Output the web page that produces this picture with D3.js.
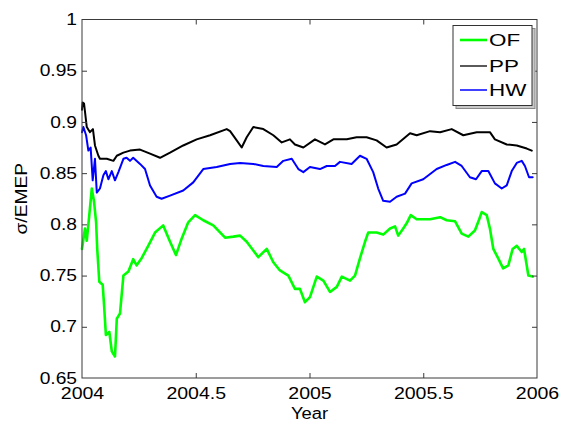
<!DOCTYPE html>
<html>
<head>
<meta charset="utf-8">
<script src="https://cdn.jsdelivr.net/npm/d3@7"></script>
<style>
  html, body { margin: 0; padding: 0; background: #fff; }
  svg { display: block; }
  text { font-family: "Liberation Sans", Arial, Helvetica, sans-serif; fill: #000; }
</style>
</head>
<body>
<svg id="chart" width="563" height="423"></svg>
<script>
// ---------------- DATA ----------------
const seriesNames = ["OF", "PP", "HW"];
const xTickValues = [2004, 2004.5, 2005, 2005.5, 2006];
const xTickLabels = ["2004", "2004.5", "2005", "2005.5", "2006"];
const yTickValues = [0.65, 0.7, 0.75, 0.8, 0.85, 0.9, 0.95, 1];
const yTickLabels = ["0.65", "0.7", "0.75", "0.8", "0.85", "0.9", "0.95", "1"];

const ppX = [2004.000,2004.003,2004.009,2004.021,2004.035,2004.048,2004.057,2004.072,2004.079,2004.109,2004.138,2004.153,2004.182,2004.211,2004.255,2004.299,2004.343,2004.387,2004.445,2004.504,2004.563,2004.636,2004.651,2004.680,2004.702,2004.724,2004.753,2004.797,2004.841,2004.878,2004.914,2004.936,2004.973,2005.024,2005.068,2005.105,2005.164,2005.207,2005.251,2005.295,2005.339,2005.383,2005.442,2005.471,2005.530,2005.574,2005.625,2005.676,2005.735,2005.793,2005.815,2005.867,2005.911,2005.955,2005.977];
const ppY = [0.912,0.919,0.918,0.895,0.890,0.893,0.877,0.867,0.864,0.864,0.862,0.867,0.870,0.872,0.873,0.869,0.865,0.870,0.877,0.883,0.887,0.893,0.891,0.882,0.875,0.885,0.895,0.893,0.887,0.880,0.883,0.878,0.875,0.883,0.878,0.883,0.883,0.885,0.885,0.882,0.875,0.878,0.889,0.887,0.891,0.890,0.893,0.887,0.890,0.890,0.883,0.878,0.877,0.874,0.872];

const hwX = [2004.000,2004.006,2004.018,2004.028,2004.038,2004.047,2004.057,2004.065,2004.079,2004.094,2004.105,2004.116,2004.131,2004.145,2004.160,2004.182,2004.196,2004.211,2004.225,2004.255,2004.277,2004.299,2004.328,2004.350,2004.387,2004.445,2004.489,2004.533,2004.592,2004.651,2004.695,2004.753,2004.797,2004.856,2004.885,2004.922,2004.951,2004.973,2005.002,2005.046,2005.076,2005.112,2005.134,2005.185,2005.222,2005.251,2005.280,2005.302,2005.324,2005.354,2005.383,2005.420,2005.449,2005.500,2005.559,2005.603,2005.640,2005.669,2005.705,2005.732,2005.757,2005.786,2005.815,2005.845,2005.867,2005.889,2005.911,2005.933,2005.947,2005.965,2005.981];
const hwY = [0.890,0.895,0.887,0.872,0.875,0.843,0.864,0.831,0.835,0.848,0.852,0.844,0.852,0.843,0.851,0.864,0.865,0.862,0.865,0.859,0.854,0.838,0.827,0.825,0.828,0.833,0.841,0.854,0.856,0.859,0.860,0.859,0.857,0.856,0.862,0.864,0.854,0.851,0.856,0.854,0.857,0.857,0.861,0.859,0.867,0.864,0.851,0.835,0.823,0.822,0.827,0.830,0.840,0.844,0.854,0.858,0.861,0.857,0.846,0.844,0.852,0.852,0.840,0.835,0.838,0.852,0.860,0.862,0.857,0.846,0.846];

const ofX = [2004.000,2004.013,2004.021,2004.032,2004.043,2004.053,2004.062,2004.067,2004.076,2004.091,2004.097,2004.105,2004.120,2004.131,2004.145,2004.153,2004.167,2004.182,2004.204,2004.225,2004.240,2004.262,2004.291,2004.321,2004.357,2004.387,2004.413,2004.438,2004.467,2004.497,2004.533,2004.577,2004.629,2004.665,2004.695,2004.724,2004.775,2004.812,2004.841,2004.870,2004.907,2004.936,2004.958,2004.980,2005.002,2005.032,2005.061,2005.090,2005.120,2005.142,2005.178,2005.200,2005.222,2005.244,2005.258,2005.295,2005.324,2005.354,2005.376,2005.390,2005.412,2005.427,2005.445,2005.471,2005.530,2005.574,2005.603,2005.640,2005.669,2005.698,2005.727,2005.746,2005.757,2005.779,2005.793,2005.808,2005.829,2005.851,2005.874,2005.893,2005.911,2005.933,2005.943,2005.962,2005.981];
const ofY = [0.776,0.796,0.784,0.809,0.835,0.822,0.802,0.776,0.744,0.741,0.721,0.692,0.695,0.676,0.671,0.708,0.713,0.750,0.754,0.766,0.760,0.767,0.779,0.792,0.799,0.783,0.770,0.786,0.802,0.809,0.804,0.799,0.787,0.788,0.789,0.783,0.768,0.776,0.763,0.755,0.750,0.737,0.737,0.724,0.729,0.749,0.745,0.734,0.739,0.749,0.745,0.750,0.767,0.783,0.792,0.792,0.790,0.796,0.798,0.789,0.796,0.801,0.809,0.805,0.805,0.807,0.804,0.803,0.791,0.788,0.794,0.805,0.812,0.809,0.796,0.776,0.767,0.757,0.760,0.776,0.779,0.773,0.776,0.750,0.749];

const xLabel = "Year";
const yLabel = "σ/EMEP";

// ---------------- CHART ----------------
const svg = d3.select("#chart");
const L = 82, R = 537, T = 19.5, B = 378;
const x = d3.scaleLinear().domain([2004, 2006]).range([L, R]);
const y = d3.scaleLinear().domain([0.65, 1]).range([B, T]);

const frameColor = "#3a3a3a";
const fontSize = 16;

function stretch(sel, factor) {
  sel.each(function () {
    const w = this.getComputedTextLength();
    d3.select(this).attr("textLength", w * factor).attr("lengthAdjust", "spacingAndGlyphs");
  });
}

// series lines
const series = [
  { name: "OF", xs: ofX, ys: ofY, color: "#00ff00", width: 2.6 },
  { name: "PP", xs: ppX, ys: ppY, color: "#000000", width: 2 },
  { name: "HW", xs: hwX, ys: hwY, color: "#0000ff", width: 2 }
];
const line = d3.line().x(d => x(d[0])).y(d => y(d[1]));
const drawOrder = ["OF", "PP", "HW"];
drawOrder.forEach(n => {
  const s = series.find(e => e.name === n);
  svg.append("path")
    .datum(s.xs.map((v, i) => [v, s.ys[i]]))
    .attr("d", line)
    .attr("fill", "none")
    .attr("stroke", s.color)
    .attr("stroke-width", s.width)
    .attr("stroke-linejoin", "round")
    .attr("stroke-linecap", "round");
});

// axes
const xAxis = d3.axisBottom(x).tickValues(xTickValues)
  .tickFormat((d, i) => xTickLabels[i]).tickSizeInner(-5).tickSizeOuter(0).tickPadding(10);
const gx = svg.append("g").attr("transform", `translate(0,${B})`).call(xAxis);
const yAxis = d3.axisLeft(y).tickValues(yTickValues)
  .tickFormat((d, i) => yTickLabels[i]).tickSizeInner(-5).tickSizeOuter(0).tickPadding(5);
const gy = svg.append("g").attr("transform", `translate(${L},0)`).call(yAxis);
const gxTop = svg.append("g").attr("transform", `translate(0,${T})`)
  .call(d3.axisTop(x).tickValues(xTickValues).tickFormat("").tickSizeInner(-5).tickSizeOuter(0));
const gyRight = svg.append("g").attr("transform", `translate(${R},0)`)
  .call(d3.axisRight(y).tickValues(yTickValues).tickFormat("").tickSizeInner(-5).tickSizeOuter(0));

[gx, gy, gxTop, gyRight].forEach(g => {
  g.select(".domain").remove();
  g.selectAll(".tick line").attr("stroke", frameColor).attr("stroke-width", 1);
  g.selectAll("text").style("font-size", fontSize + "px")
    .style("font-family", '"Liberation Sans", Arial, sans-serif').attr("fill", "#000");
});
// drop edge ticks that would overlap the frame
[gx, gxTop].forEach(g => g.selectAll(".tick line").filter(d => d === 2004 || d === 2006).remove());
[gy, gyRight].forEach(g => g.selectAll(".tick line").filter(d => d === 0.65 || d === 1).remove());

stretch(gx.selectAll("text"), 1.22);
stretch(gy.selectAll("text"), 1.2);

// frame
svg.append("rect")
  .attr("x", L).attr("y", T).attr("width", R - L).attr("height", B - T)
  .attr("fill", "none").attr("stroke", frameColor).attr("stroke-width", 1);

// axis labels
const xl = svg.append("text")
  .attr("x", (L + R) / 2).attr("y", 419)
  .attr("text-anchor", "middle").style("font-size", fontSize + "px").text(xLabel);
stretch(xl, 1.15);
const yl = svg.append("text")
  .attr("transform", `translate(27,${(T + B) / 2}) rotate(-90)`)
  .attr("text-anchor", "middle").style("font-size", fontSize + "px").text(yLabel);
stretch(yl, 1.2);

// legend
const lgX = 453, lgY = 25.5, lgW = 79, lgH = 80;
svg.append("rect").attr("x", lgX + 3).attr("y", lgY + 3).attr("width", lgW).attr("height", lgH)
  .attr("fill", "#c8c8c8").attr("stroke", "#888").attr("stroke-width", 1);
svg.append("rect").attr("x", lgX).attr("y", lgY).attr("width", lgW).attr("height", lgH)
  .attr("fill", "#fff").attr("stroke", "#333").attr("stroke-width", 1);

const legendWidths = { OF: 2.6, PP: 1.3, HW: 1.5 };
const lgRows = [40, 66, 90];
seriesNames.forEach((n, i) => {
  const s = series.find(e => e.name === n);
  const yy = lgRows[i];
  svg.append("line")
    .attr("x1", 460).attr("x2", 487).attr("y1", yy).attr("y2", yy)
    .attr("stroke", s.color).attr("stroke-width", legendWidths[n]);
  const t = svg.append("text")
    .attr("x", 489).attr("y", yy).attr("dy", "0.36em")
    .style("font-size", fontSize + "px").text(n);
  stretch(t, 1.4);
});
</script>
</body>
</html>
